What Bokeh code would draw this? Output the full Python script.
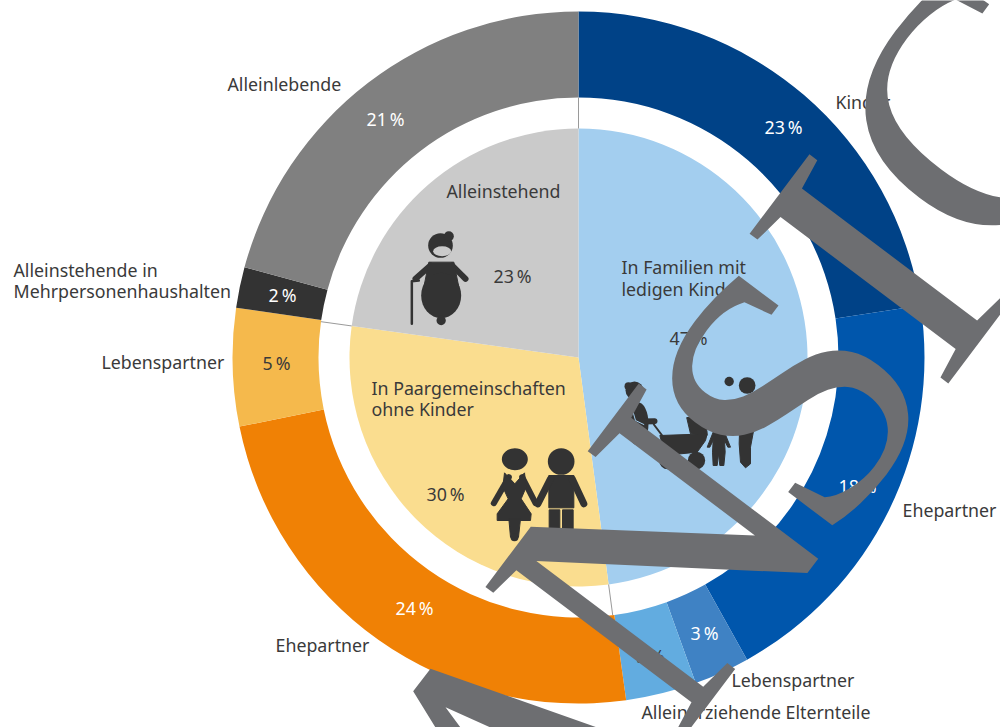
import math
from bokeh.plotting import figure
from bokeh.models import Range1d
from bokeh.core.properties import value
from bokeh.embed import file_html
from bokeh.resources import INLINE

H = 727
outer_names = ["Kinder", "Ehepartner", "Lebenspartner", "Alleinerziehende Elternteile", "Ehepartner", "Lebenspartner", "Alleinstehende in Mehrpersonenhaushalten", "Alleinlebende"]
outer_shares = [22.6, 19.3, 2.6, 3.3, 24.0, 5.5, 1.9, 20.8]
outer_colors = ["#004287", "#0056ac", "#3f82c4", "#62ace0", "#f08105", "#f5b94c", "#333333", "#808080"]
outer_labels = ["23\u2009%", "18\u2009%", "3\u2009%", "3\u2009%", "24\u2009%", "5\u2009%", "2\u2009%", "21\u2009%"]
inner_names = ["In Familien mit ledigen Kindern", "In Paargemeinschaften ohne Kinder", "Alleinstehend"]
inner_shares = [47.9, 29.3, 22.8]
inner_colors = ["#a3ceef", "#fadd8f", "#cacaca"]
inner_labels = ["47\u2009%", "30\u2009%", "23\u2009%"]

CX, CY = 578, 357
R_OUT, R_RING, R_PIE = 346, 260, 229
FONT = "Noto Sans"
INK = "#3a3a3a"
WM = "#6d6e71"
DARK = "#333333"

p = figure(width=1000, height=727, output_backend="svg", toolbar_location=None,
           x_range=Range1d(0, 1000), y_range=Range1d(0, H), min_border=0,
           outline_line_color=None)
p.axis.visible = False
p.grid.visible = False
p.background_fill_color = "white"


def Y(y):
    return H - y


def wedges(shares, colors, r0, r1):
    a = 0.0
    ends = []
    for s, c in zip(shares, colors):
        b = a + s
        st = math.pi / 2 - a / 100 * 2 * math.pi
        en = math.pi / 2 - b / 100 * 2 * math.pi
        if r0 > 0:
            p.annular_wedge([CX], [Y(CY)], inner_radius=r0, outer_radius=r1, start_angle=st, end_angle=en,
                            direction="clock", fill_color=c, line_color=None)
        else:
            p.wedge([CX], [Y(CY)], radius=r1, start_angle=st, end_angle=en, direction="clock",
                    fill_color=c, line_color=None)
        a = b
        ends.append(en)
    return ends


wedges(outer_shares, outer_colors, R_RING, R_OUT)
ends = wedges(inner_shares, inner_colors, 0, R_PIE)
for e in ends:
    p.line([CX + R_PIE * math.cos(e), CX + R_RING * math.cos(e)],
           [Y(CY) + R_PIE * math.sin(e), Y(CY) + R_RING * math.sin(e)], line_color="#9a9a9a", line_width=1)


def txt(x, y, s, color=INK, align="left", size="17.8px"):
    p.text([x], [Y(y - 1.5)], text=[s], text_color=color, text_align=align, text_baseline="middle",
           text_font=value(FONT), text_font_size=size)


txt(227, 85, outer_names[7])
txt(835, 103, outer_names[0])
txt(13, 271, "Alleinstehende in")
txt(13, 292, "Mehrpersonenhaushalten")
txt(101, 363, outer_names[5])
txt(275, 646, outer_names[4])
txt(731, 681, outer_names[2])
txt(641, 713, outer_names[3])
txt(902, 511, outer_names[1])
txt(446, 192, inner_names[2])
txt(621, 268, "In Familien mit")
txt(621, 290, "ledigen Kindern")
txt(371, 389, "In Paargemeinschaften")
txt(371, 410, "ohne Kinder")
txt(783, 128, outer_labels[0], "white", "center")
txt(857, 487, outer_labels[1], "white", "center")
txt(704, 634, outer_labels[2], "white", "center")
txt(650, 657, outer_labels[3], INK, "center")
txt(414, 609, outer_labels[4], "white", "center")
txt(276, 364, outer_labels[5], INK, "center")
txt(282, 296, outer_labels[6], "white", "center")
txt(385, 120, outer_labels[7], "white", "center")
txt(688, 339, inner_labels[0], INK, "center")
txt(445, 495, inner_labels[1], INK, "center")
txt(512, 277, inner_labels[2], INK, "center")


# icons: coordinates are in a 3x frame with origin (380, 220)
def zx(v):
    return 380 + v / 3


def zy(v):
    return Y(220 + v / 3)


def blob(pts, color=DARK):
    p.patch([zx(a) for a, _ in pts], [zy(b) for _, b in pts], fill_color=color, line_color=color, line_width=1, line_join="round")


def disc(x, y, r, color=DARK, ry=None):
    p.ellipse([zx(x)], [zy(y)], width=2 * r / 3, height=2 * (ry or r) / 3, fill_color=color, line_color=None)


def stroke(pts, w, color=DARK):
    p.line([zx(a) for a, _ in pts], [zy(b) for _, b in pts], line_color=color, line_width=w, line_cap="round", line_join="round")


# grandmother
disc(180, 75, 37)
disc(205, 47, 15)
disc(185, 92, 27, "#cacaca", 15)
stroke([(150, 135), (105, 175)], 6)
stroke([(215, 135), (255, 175)], 6)
stroke([(94, 310), (94, 182), (115, 180)], 2.5)
blob([(145, 125), (220, 125), (235, 200), (130, 200)])
disc(182, 225, 60, ry=68)
disc(182, 300, 14)
# mother, pram, child, father
disc(762, 510, 27)
disc(744, 497, 12)
disc(772, 610, 32, ry=65)
stroke([(775, 565), (785, 603), (822, 602)], 6)
stroke([(755, 565), (765, 600), (790, 612)], 1, "#a3ceef")
stroke([(820, 612), (845, 645)], 2)
p.wedge([zx(930)], [zy(640)], radius=50 / 3, start_angle=-0.1, end_angle=1.8, fill_color=DARK, line_color=DARK)
blob([(838, 645), (980, 640), (975, 660), (950, 695), (880, 702), (850, 690)])
disc(862, 720, 26)
disc(948, 720, 26)
disc(1014, 610, 16)
blob([(1000, 630), (1030, 630), (1050, 680), (1042, 680), (1032, 660), (1034, 695), (1030, 735), (1018, 735), (1014, 700),
      (1010, 735), (998, 735), (996, 695), (998, 660), (988, 680), (980, 680)])
disc(1100, 495, 25)
disc(1046, 483, 14)
blob([(1078, 600), (1125, 600), (1110, 680), (1110, 730), (1095, 742), (1080, 725), (1076, 670)])
# couple
disc(403, 716, 39, ry=33)
stroke([(385, 770), (340, 848)], 6)
stroke([(425, 770), (465, 848)], 6)
blob([(372, 757), (403, 790), (432, 757), (437, 800), (422, 835), (452, 880), (450, 900), (350, 900), (350, 880), (383, 835), (367, 800)])
blob([(385, 895), (420, 895), (414, 950), (390, 950)])
disc(402, 950, 12)
disc(542, 723, 40)
blob([(505, 765), (580, 765), (580, 862), (505, 862)])
stroke([(575, 775), (610, 850)], 7)
stroke([(510, 775), (472, 850)], 7)
blob([(506, 868), (538, 868), (538, 960), (506, 960)])
blob([(546, 868), (578, 868), (578, 960), (546, 960)])

# watermark letters (letter, x, y, size), placed in picture pixels and rotated along their baseline
wm_letters = [("N", 657, 558, "380px"), ("S", 787, 395, "365px"), ("I", 875, 266, "380px"), ("C", 976, 112, "350px")]
for ch, x, y, size in wm_letters:
    p.text([x], [Y(y)], text=[ch], angle=math.radians(53), text_align="center", text_baseline="middle", text_color=WM,
           text_font=value("Liberation Serif"), text_font_size=size)
# the cut-off piece of a further watermark letter at the bottom edge
frag = [(98, 512), (165, 621), (240, 621), (195, 560), (330, 621), (650, 621), (150, 445)]
p.patch([380 + a / 3 for a, _ in frag], [Y(520 + b / 3) for _, b in frag], fill_color=WM, line_color=None)

open("out.html", "w").write(file_html(p, INLINE))
